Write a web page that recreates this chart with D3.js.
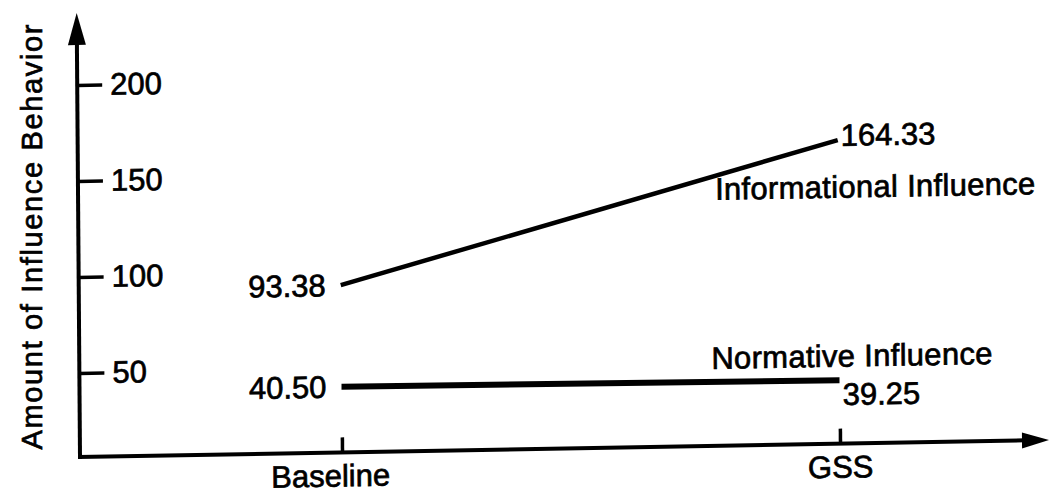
<!DOCTYPE html>
<html>
<head>
<meta charset="utf-8">
<script src="https://cdn.jsdelivr.net/npm/d3@7"></script>
<style>
  html, body { margin: 0; padding: 0; background: #fff; }
  svg { display: block; }
  text {
    font-family: "Liberation Sans", Arial, Helvetica, sans-serif;
    fill: #000;
    stroke: #000;
    stroke-width: 0.7px;
  }
</style>
</head>
<body>
<div id="chart"></div>
<script>
const categories = ["Baseline", "GSS"];
const informational = [93.38, 164.33];
const normative = [40.50, 39.25];
const yTicks = [50, 100, 150, 200];
const yTitle = "Amount of Influence Behavior";
const seriesNames = ["Informational Influence", "Normative Influence"];

const width = 1050;
const height = 495;
const fmt2 = d3.format(".2f");

const svg = d3.select("#chart").append("svg")
  .attr("width", width)
  .attr("height", height);

svg.append("rect").attr("width", width).attr("height", height).attr("fill", "#fff");

// ===== y title (upright in the scan) =====
svg.append("text")
  .attr("transform", "translate(42,237) rotate(-90)")
  .attr("text-anchor", "middle")
  .attr("font-size", 29)
  .attr("textLength", 425)
  .attr("lengthAdjust", "spacing")
  .text(yTitle);

// ===== plot frame: origin at the axis corner, skewed a bit like the scan =====
const g = svg.append("g")
  .attr("transform", "matrix(1,-0.0176,0.0075,1,80,457)");

const x = d3.scalePoint().domain(categories).range([262, 760]);
const y = d3.scaleLinear().domain([0, 200]).range([12, -372]);

// axes lines + arrow heads
g.append("line")
  .attr("x1", 0).attr("y1", 2).attr("x2", 0).attr("y2", -416)
  .attr("stroke", "#000").attr("stroke-width", 4);
g.append("path")
  .attr("d", "M0,-444L-9,-412L9,-412Z")
  .attr("fill", "#000");

g.append("line")
  .attr("x1", -2).attr("y1", 0).attr("x2", 945).attr("y2", 0)
  .attr("stroke", "#000").attr("stroke-width", 4);
g.append("path")
  .attr("d", "M969,0L942,-8L942,8Z")
  .attr("fill", "#000");

// y ticks point inward, labels to the right
g.append("g")
  .call(d3.axisRight(y).tickValues(yTicks).tickSize(25).tickPadding(8))
  .call(gg => gg.select(".domain").remove())
  .call(gg => gg.selectAll("line").attr("stroke", "#000").attr("stroke-width", 3.5))
  .call(gg => gg.selectAll("text")
    .attr("font-size", 31)
    .attr("font-family", null)
    .attr("fill", "#000"));

// x ticks point up, labels below
g.append("g")
  .call(d3.axisBottom(x).tickSize(-15).tickPadding(12))
  .call(gg => gg.select(".domain").remove())
  .call(gg => gg.selectAll("line").attr("stroke", "#000").attr("stroke-width", 3.5))
  .call(gg => gg.selectAll("text")
    .attr("font-size", 31)
    .attr("font-family", null)
    .attr("fill", "#000")
    .attr("dx", (d, i) => i === 0 ? -12 : 0));

// ===== series =====
const line = d3.line()
  .x((d, i) => x(categories[i]))
  .y(d => y(d));

const series = [
  { name: seriesNames[0], values: informational, width: 4.5, endDy: -5, nameX: 637, nameY: -246 },
  { name: seriesNames[1], values: normative, width: 6, endDy: 14, nameX: 632, nameY: -77 }
];

series.forEach(s => {
  g.append("path")
    .datum(s.values)
    .attr("d", line)
    .attr("fill", "none")
    .attr("stroke", "#000")
    .attr("stroke-width", s.width);

  // value at Baseline
  g.append("text")
    .attr("x", x(categories[0]) - 15)
    .attr("y", y(s.values[0]))
    .attr("dy", "0.35em")
    .attr("text-anchor", "end")
    .attr("font-size", 31)
    .text(fmt2(s.values[0]));

  // value at GSS
  g.append("text")
    .attr("x", x(categories[1]) + 3)
    .attr("y", y(s.values[1]) + s.endDy)
    .attr("dy", "0.35em")
    .attr("font-size", 31)
    .text(fmt2(s.values[1]));

  g.append("text")
    .attr("x", s.nameX)
    .attr("y", s.nameY)
    .attr("font-size", 31)
    .attr("letter-spacing", 0.3)
    .text(s.name);
});
</script>
</body>
</html>
